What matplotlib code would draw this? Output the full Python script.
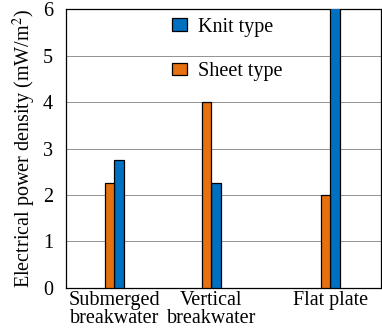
import numpy as np
import matplotlib
matplotlib.use("Agg")
import matplotlib.pyplot as plt

categories = ["Submerged\nbreakwater", "Vertical\nbreakwater", "Flat plate"]
positions = [1.0, 3.0, 5.45]
sheet_type = [2.25, 4.0, 2.0]
knit_type = [2.75, 2.25, 6.2]

ORANGE = "#E8710F"
BLUE = "#0070C0"
BAR_W = 0.2
FS = 14.5

plt.rcParams["font.family"] = ["Liberation Serif", "DejaVu Serif"]
plt.rcParams["mathtext.fontset"] = "stix"

fig = plt.figure(figsize=(3.82, 3.36), dpi=100)
ax = fig.add_axes([0.172, 0.143, 0.826, 0.830])

x = np.array(positions)
ax.bar(x + BAR_W / 2, knit_type, BAR_W, color=BLUE, edgecolor="black",
       linewidth=0.9, label="Knit type", zorder=3)
ax.bar(x - BAR_W / 2, sheet_type, BAR_W, color=ORANGE, edgecolor="black",
       linewidth=0.9, label="Sheet type", zorder=3)

ax.set_xlim(0, 6.5)
ax.set_ylim(0, 6)
ax.set_yticks(range(0, 7))
ax.set_xticks(positions)
ax.set_xticklabels(categories, fontsize=FS, linespacing=0.95)
ax.tick_params(axis="y", labelsize=FS, length=0, pad=9)
ax.tick_params(axis="x", length=0, pad=2)
ax.yaxis.grid(True, linestyle=(0, (1.2, 1.2)), color="black", linewidth=0.6)
ax.set_axisbelow(True)
for s in ax.spines.values():
    s.set_linewidth(0.9)

ax.set_ylabel("Electrical power density (mW/m$^2$)", fontsize=FS, labelpad=4)

ax.legend(loc="upper left", bbox_to_anchor=(0.292, 1.02), frameon=False,
          fontsize=FS, handlelength=0.75, handleheight=0.55, labelspacing=1.25,
          handletextpad=0.55, borderaxespad=0.3)

fig.savefig("out.png", dpi=100)
